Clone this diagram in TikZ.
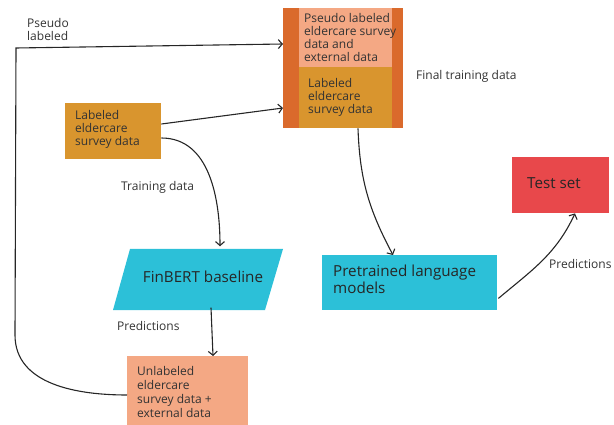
\documentclass[tikz,border=0pt]{standalone}
\usepackage{fontspec}
\setmainfont{Open Sans}
\usetikzlibrary{arrows.meta,calc}
\definecolor{cdark}{HTML}{DA6A2C}
\definecolor{cpink}{HTML}{F4A884}
\definecolor{cmust}{HTML}{D9952E}
\definecolor{ccyan}{HTML}{2CC0D8}
\definecolor{cred}{HTML}{E8484B}
\definecolor{ctext}{HTML}{333333}
\tikzset{
  boxshape/.style={draw=none,inner sep=0pt,anchor=north west},
  smalltxt/.style={inner sep=0pt,anchor=north west,align=left,text=ctext,font=\fontsize{12}{12.9}\selectfont},
  bigtxt/.style={inner sep=0pt,align=left,text=black!85,font=\fontsize{15.2}{16.5}\selectfont},
  conn/.style={draw=black!85,line width=1.1pt,-{Straight Barb[length=4pt,width=9pt]}},
}
\begin{document}
\begin{tikzpicture}[x=1pt,y=-1pt]
\useasboundingbox (0,0) rectangle (614,425);
% container
\node[boxshape,fill=cdark,minimum width=120pt,minimum height=120pt] (cont) at (283,8) {};
\node[boxshape,fill=cpink,minimum width=93pt,minimum height=59pt] (pseudo) at (299,8) {};
\node[boxshape,fill=cmust,minimum width=93pt,minimum height=61pt] (labin) at (299,67) {};
\node[smalltxt] (pseudot) at (304,13) {Pseudo labeled\\eldercare survey\\data and\\external data};
\node[smalltxt] (labint) at (308,78) {Labeled\\eldercare\\survey data};
\node[smalltxt] (final) at (416,70) {Final training data};
% labeled box
\node[boxshape,fill=cmust,minimum width=96pt,minimum height=56pt] (lab) at (65,103) {};
\node[smalltxt] (labt) at (75,110) {Labeled\\eldercare\\survey data};
% pseudo labeled label
\node[smalltxt] (pl) at (27,18) {Pseudo\\labeled};
% FinBERT parallelogram
\fill[ccyan] (130,249) -- (283,249) -- (265,310) -- (113,310) -- cycle;
\node[bigtxt,minimum height=61pt] (fin) at (203,277) {FinBERT baseline};
% unlabeled
\node[boxshape,fill=cpink,minimum width=121pt,minimum height=70pt] (unl) at (127,356) {};
\node[smalltxt,font=\fontsize{12}{14}\selectfont] (unlt) at (137,366) {Unlabeled\\eldercare\\survey data +\\external data};
% pretrained
\node[boxshape,fill=ccyan,minimum width=175pt,minimum height=55pt] (pre) at (322,255) {};
\node[bigtxt,anchor=north west] (pret) at (333,265) {Pretrained language\\models};
% test set
\node[boxshape,fill=cred,minimum width=97pt,minimum height=56pt] (test) at (512,157) {};
\node[bigtxt,anchor=west] (testt) at (527,183.5) {Test set};
% labels
\node[smalltxt] (train) at (121,181) {Training data};
\node[smalltxt] (pred1) at (117,321) {Predictions};
\node[smalltxt] (pred2) at (549,259) {Predictions};
% connectors
\draw[conn] ($(unl.north west)+(0,39)$) to[out=180,in=-90] (15,335) -- (16,48) -- ($(cont.north west)+(0,36)$);
\draw[conn] ($(lab.north east)+(0,21)$) -- ($(cont.north west)+(0,100)$);
\draw[conn] ($(lab.north east)+(0,35)$) to[out=0,in=90] ($(fin.north)+(17,0)$);
\draw[conn] ($(fin.south)+(8,0)$) -- ($(unl.north west)+(86,0)$);
\draw[conn] ($(cont.south west)+(75,0)$) to[out=-88,in=118] ($(pre.north west)+(71,0)$);
\draw[conn] ($(pre.south east)+(1,-12)$) to[out=40,in=-115] ($(test.south west)+(63,0)$);
\end{tikzpicture}
\end{document}
